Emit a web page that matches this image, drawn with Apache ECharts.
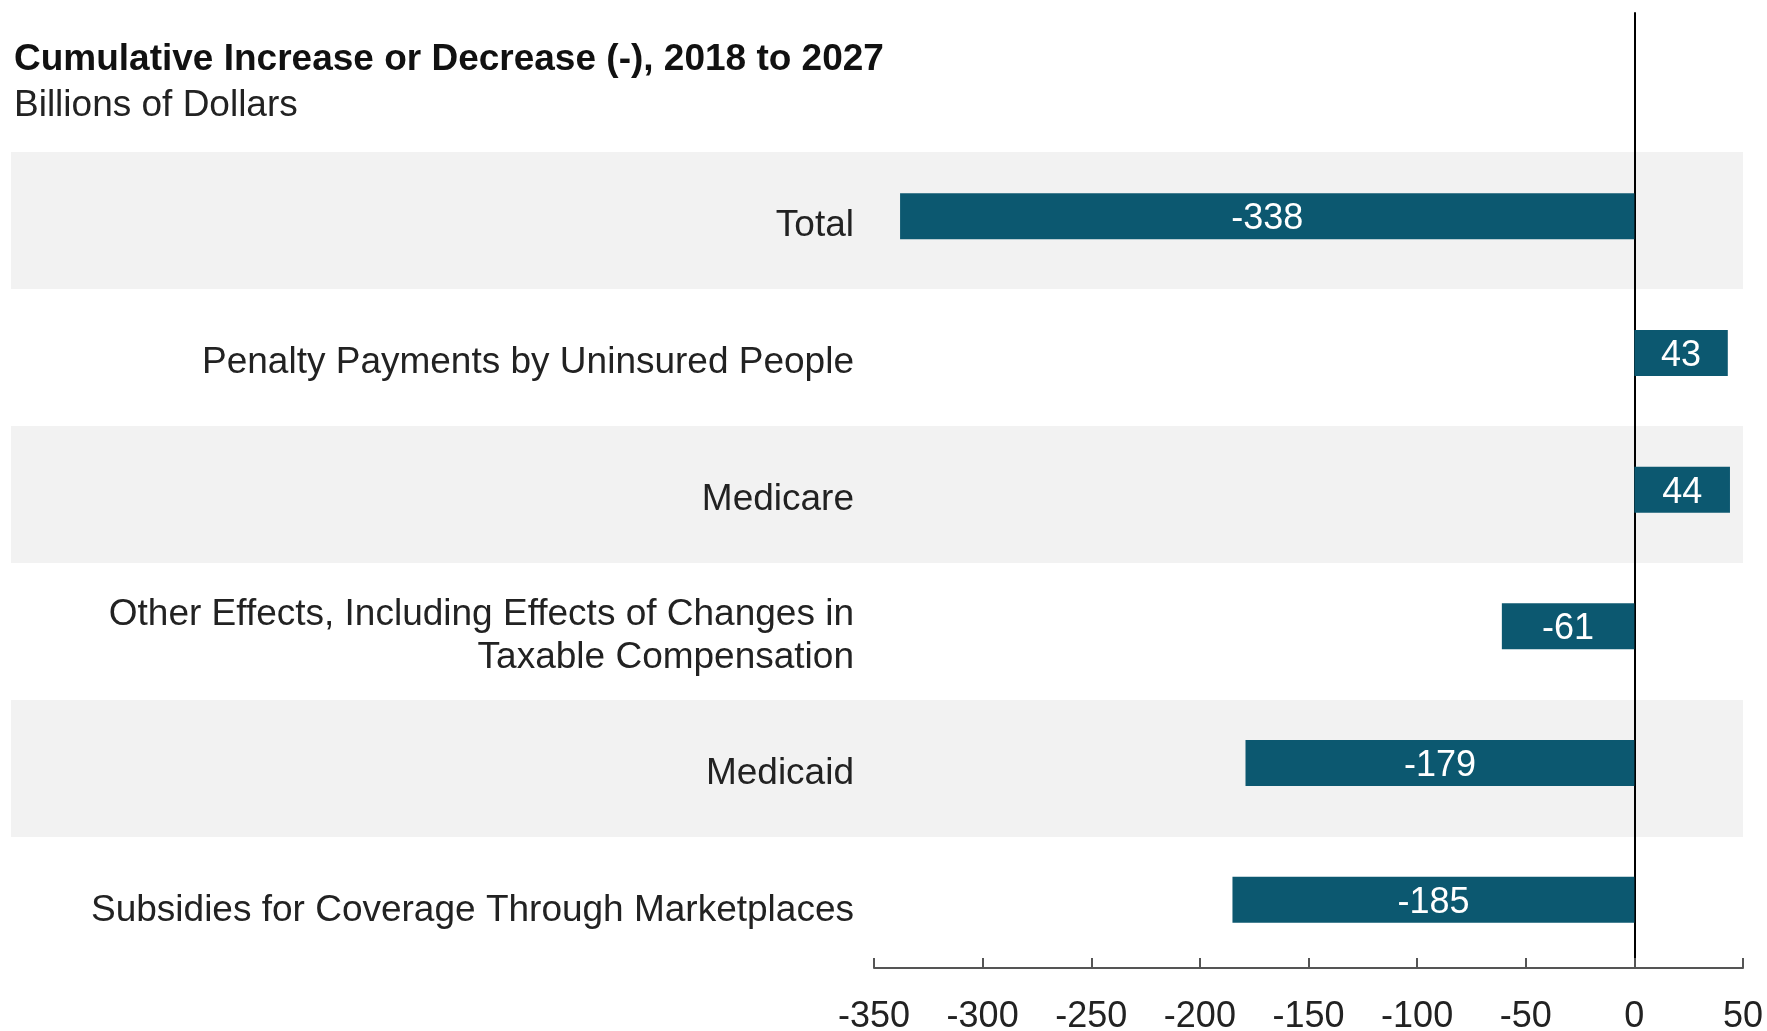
<!DOCTYPE html>
<html><head><meta charset="utf-8">
<script src="https://cdn.jsdelivr.net/npm/echarts@6/dist/echarts.min.js"></script>
<style>html,body{margin:0;padding:0;background:#fff}#c{width:1767px;height:1031px}</style>
</head><body><div id="c"></div>
<script>
const categories = ['Total','Penalty Payments by Uninsured People','Medicare','Other Effects, Including Effects of Changes in\nTaxable Compensation','Medicaid','Subsidies for Coverage Through Marketplaces'];
const values = [-338, 43, 44, -61, -179, -185];
const xTicks = [-350,-300,-250,-200,-150,-100,-50,0,50];
const titleText = 'Cumulative Increase or Decrease (-), 2018 to 2027';
const subtitleText = 'Billions of Dollars';

const FONT = 'Liberation Sans, Arial, sans-serif';
const chart = echarts.init(document.getElementById('c'));
chart.setOption({
  animation:false,
  backgroundColor:'#fff',
  title:[
    {text:titleText,left:9,top:36,textStyle:{fontFamily:FONT,fontWeight:'bold',fontSize:37,color:'#111'}},
    {text:subtitleText,left:9,top:82,textStyle:{fontFamily:FONT,fontWeight:'normal',fontSize:37,color:'#222'}}
  ],
  grid:[
    {left:11,right:24,top:152,height:822,show:false,containLabel:false,outerBoundsMode:'none'},
    {left:874,right:24,top:13,height:955,show:false,containLabel:false,outerBoundsMode:'none'},
    {left:874,right:24,top:148,height:820,show:false,containLabel:false,outerBoundsMode:'none'},
    {left:874,right:24,top:157,height:822,show:false,containLabel:false,outerBoundsMode:'none'}
  ],
  xAxis:[
    {gridIndex:0,type:'value',min:0,max:1,show:false},
    {gridIndex:1,type:'value',min:xTicks[0],max:xTicks[xTicks.length-1],show:false},
    {gridIndex:2,type:'value',min:xTicks[0],max:xTicks[xTicks.length-1],interval:50,
     axisLine:{show:true,lineStyle:{color:'#555',width:2}},
     axisTick:{show:true,inside:true,length:10,lineStyle:{color:'#555',width:2}},
     splitLine:{show:false},
     axisLabel:{margin:31,fontFamily:FONT,fontSize:36,color:'#222'}},
    {gridIndex:3,type:'value',min:0,max:1,show:false}
  ],
  yAxis:[
    {gridIndex:0,type:'category',data:categories,inverse:true,
     axisLine:{show:false},axisTick:{show:false},axisLabel:{show:false},
     splitLine:{show:false},
     splitArea:{show:true,areaStyle:{color:['#f2f2f2','#ffffff']}}},
    {gridIndex:1,type:'category',data:[''],
     axisLine:{show:true,onZero:true,lineStyle:{color:'#000',width:2}},
     axisTick:{show:false},axisLabel:{show:false},splitLine:{show:false}},
    {gridIndex:2,type:'category',data:categories,inverse:true,
     axisLine:{show:false,onZero:false},axisTick:{show:false},splitLine:{show:false},
     axisLabel:{show:false}},
    {gridIndex:3,type:'category',data:categories,inverse:true,
     axisLine:{show:false,onZero:false},axisTick:{show:false},splitLine:{show:false},
     axisLabel:{show:true,margin:20,fontFamily:FONT,fontSize:37,color:'#222',lineHeight:43,align:'right'}}
  ],
  series:[
    {type:'bar',xAxisIndex:2,yAxisIndex:2,data:values,barWidth:46,
     itemStyle:{color:'#0c5870'},
     label:{show:true,position:'inside',color:'#fff',fontFamily:FONT,fontSize:36,offset:[0,3]}}
  ]
});
</script></body></html>
